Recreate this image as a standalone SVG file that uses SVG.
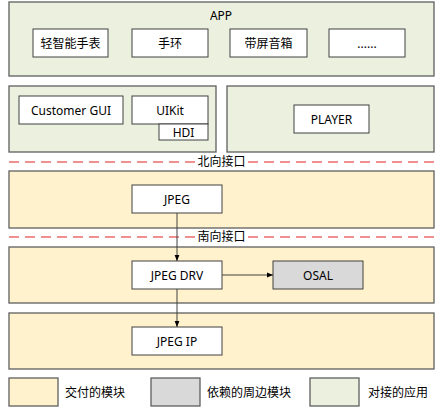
<svg xmlns="http://www.w3.org/2000/svg" width="442" height="407" viewBox="0 0 442 407">
<style>
.lay{stroke:#5f5f5f;stroke-width:1.3}
.g{fill:#ebf1de}
.y{fill:#fff2cc}
.box{fill:#ffffff;stroke:#404040;stroke-width:1}
.gray{fill:#d9d9d9;stroke:#404040;stroke-width:1}
text{font-family:"Noto Sans","Noto Sans CJK SC",sans-serif;font-size:12px;fill:#000;text-anchor:middle;dominant-baseline:central}
.l{text-anchor:start}
.dash{stroke:#e02020;stroke-width:1;stroke-dasharray:10,6;fill:none}
.con{stroke:#404040;stroke-width:1;fill:none}
</style>
<defs>
<marker id="ah" viewBox="0 0 10 10" refX="10" refY="5" markerWidth="6" markerHeight="6" orient="auto" markerUnits="userSpaceOnUse">
<path d="M0,1 L10,5 L0,9 z" fill="#000"/>
</marker>
</defs>
<rect width="442" height="407" fill="#fff"/>
<g id="layer-app"><rect class="lay g" x="9" y="2" width="425" height="74"/><text x="221" y="15">APP</text></g>
<g id="n-watch"><rect class="box" x="33" y="29" width="75" height="28"/><text x="70.5" y="43">轻智能手表</text></g>
<g id="n-band"><rect class="box" x="132" y="29" width="76" height="28"/><text x="170" y="43">手环</text></g>
<g id="n-speaker"><rect class="box" x="230" y="29" width="77" height="28"/><text x="268.5" y="43">带屏音箱</text></g>
<g id="n-more"><rect class="box" x="329" y="29" width="76" height="28"/><text x="367" y="43">......</text></g>
<g id="layer-ui"><rect class="lay g" x="9" y="86" width="207" height="66"/></g>
<g id="layer-player"><rect class="lay g" x="227" y="86" width="207" height="66"/></g>
<g id="n-gui"><rect class="box" x="19" y="96" width="104" height="28"/><text x="71" y="110">Customer GUI</text></g>
<g id="n-uikit"><rect class="box" x="132" y="96" width="76" height="28"/><text x="170" y="110">UIKit</text></g>
<g id="n-hdi"><rect class="box" x="159" y="124" width="49" height="16"/><text x="183.5" y="132">HDI</text></g>
<g id="n-player"><rect class="box" x="294" y="105" width="75" height="28"/><text x="331.5" y="119">PLAYER</text></g>
<g id="north"><line class="dash" x1="9" y1="162" x2="195" y2="162"/><line class="dash" x1="248" y1="162" x2="434" y2="162"/><text x="221.5" y="161">北向接口</text></g>
<g id="layer-jpeg"><rect class="lay y" x="9" y="171" width="425" height="57"/></g>
<g id="n-jpeg"><rect class="box" x="132" y="185" width="90" height="28"/><text x="177" y="199">JPEG</text></g>
<g id="south"><line class="dash" x1="9" y1="237" x2="195" y2="237"/><line class="dash" x1="248" y1="237" x2="434" y2="237"/><text x="221.5" y="236">南向接口</text></g>
<g id="layer-drv"><rect class="lay y" x="9" y="247" width="425" height="56"/></g>
<g id="n-drv"><rect class="box" x="132" y="261" width="90" height="28"/><text x="177" y="275">JPEG DRV</text></g>
<g id="n-osal"><rect class="gray" x="273" y="261" width="90" height="28"/><text x="318" y="275">OSAL</text></g>
<g id="layer-ip"><rect class="lay y" x="9" y="313" width="425" height="56"/></g>
<g id="n-ip"><rect class="box" x="132" y="327" width="90" height="28"/><text x="177" y="341">JPEG IP</text></g>
<g id="connectors">
<line class="con" x1="177" y1="213" x2="177" y2="261" marker-end="url(#ah)"/>
<line class="con" x1="222" y1="275" x2="273" y2="275" marker-end="url(#ah)"/>
<line class="con" x1="177" y1="289" x2="177" y2="327" marker-end="url(#ah)"/>
</g>
<g id="legend">
<rect class="lay y" x="9" y="378" width="49" height="28"/><text class="l" x="65" y="392">交付的模块</text>
<rect class="lay" fill="#d9d9d9" x="151" y="378" width="49" height="28"/><text class="l" x="207" y="392">依赖的周边模块</text>
<rect class="lay g" x="310" y="378" width="49" height="28"/><text class="l" x="368" y="392">对接的应用</text>
</g>
</svg>
